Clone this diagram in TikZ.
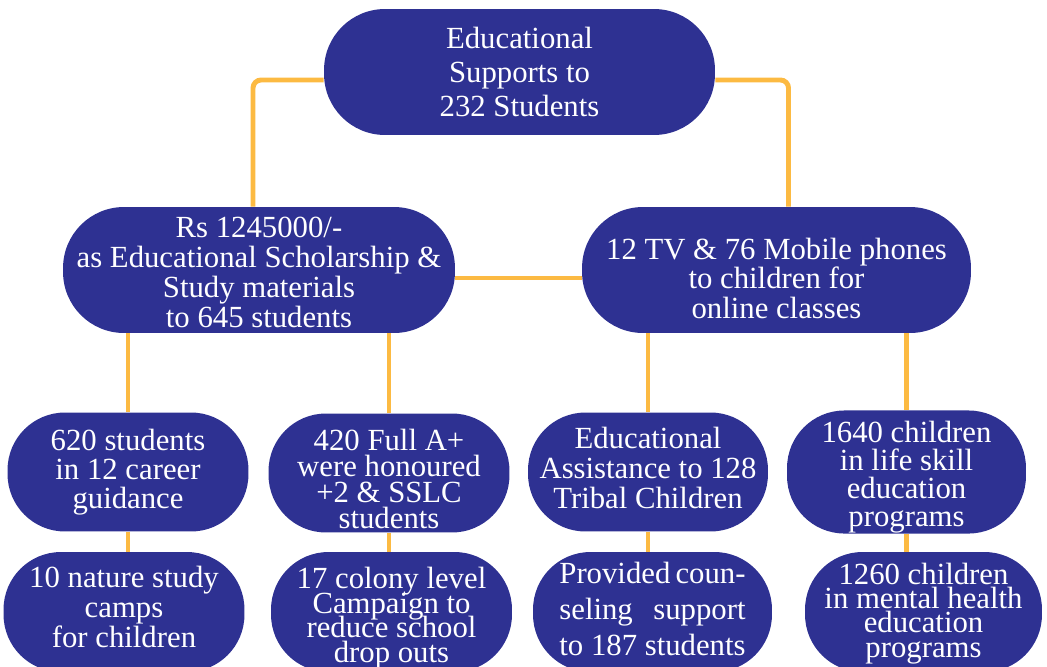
\documentclass[tikz,border=0pt]{standalone}
\usepackage{fontspec}
\setmainfont{Liberation Serif}
\usepackage{calc}
\definecolor{edblue}{RGB}{46,49,146}
\definecolor{edorange}{RGB}{252,186,66}
\usetikzlibrary{backgrounds}

% keep the given line spacing, pad first / last line
\newcommand{\tightlines}{\lineskiplimit=-\maxdimen\relax}
\newcommand{\toppad}[1]{\rule{0pt}{\dimexpr 12pt+#1\relax}}
\newcommand{\botpad}[1]{\rule[-#1]{0pt}{#1}}

\tikzset{
  pill/.style={fill=edblue, text=white, rounded corners=1.15cm, minimum width=4.82cm, minimum height=2.38cm, inner sep=0pt, align=center, font=\fontsize{17.5}{16.5}\selectfont\tightlines},
  bigpill/.style={pill, rounded corners=1.22cm, minimum height=2.52cm},
  link/.style={draw=edorange, line width=2.8pt, rounded corners=0.16cm}
}

\begin{document}
\begin{tikzpicture}[x=0.02cm, y=-0.02cm]
  \useasboundingbox (0,0) rectangle (1047,666);
  \clip (0,0) rectangle (1047,666);

  % Top node
  \node[bigpill, minimum width=7.82cm, font=\fontsize{17.5}{19.3}\selectfont\tightlines] (top) at (519.5,72) {Educational\\Supports to\\232 Students};

  % Middle row
  \node[bigpill, minimum width=7.84cm, font=\fontsize{17.5}{17}\selectfont\tightlines] (midL) at (259,270) {\toppad{0.08cm}Rs 1245000/-\\as Educational Scholarship \&\\Study materials\\to 645 students};
  \node[bigpill, minimum width=7.78cm, font=\fontsize{17.5}{17}\selectfont\tightlines] (midR) at (776.5,270) {\toppad{0.34cm}12 TV \& 76 Mobile phones\\to children for\\online classes};

  % Third row
  \node[pill] (c1) at (128,472) {620 students\\in 12 career\\guidance};
  \node[pill, font=\fontsize{17.5}{14.8}\selectfont\tightlines] (c2) at (389,473) {\toppad{0.24cm}420 Full A+\\were honoured\\+2 \& SSLC\\students};
  \node[pill, minimum width=4.8cm, font=\fontsize{17.5}{17.1}\selectfont\tightlines] (c3) at (648,472) {Educational\\Assistance to 128\\Tribal Children\botpad{0.16cm}};
  \node[pill, minimum width=4.78cm, font=\fontsize{17.5}{16}\selectfont\tightlines] (c4) at (906.5,472) {\toppad{0.22cm}1640 children\\in life skill\\education\\programs};

  % Bottom row
  \node[pill, minimum height=2.4cm, font=\fontsize{17.5}{17.1}\selectfont\tightlines] (d1) at (124,612) {10 nature study\\camps\\for children\botpad{0.19cm}};
  \node[pill, minimum height=2.4cm, font=\fontsize{17.5}{13.9}\selectfont\tightlines] (d2) at (391.5,612) {\toppad{0.25cm}17 colony level\\Campaign to\\reduce school\\drop outs};
  \node[pill, minimum width=4.78cm, minimum height=2.4cm, font=\fontsize{17.5}{20.5}\selectfont\tightlines] (d3) at (652.5,612) {\makebox[\widthof{to 187 students}][s]{Provided coun-}\\\makebox[\widthof{to 187 students}][s]{seling support}\\to 187 students\botpad{0.12cm}};
  \node[pill, minimum width=4.74cm, minimum height=2.4cm, font=\fontsize{17.5}{13.9}\selectfont\tightlines] (d4) at (923.5,612) {\toppad{0.06cm}1260 children\\in mental health\\education\\programs};

  % Connectors
  \begin{scope}[on background layer]
    \draw[link] ([yshift=-0.16cm]top.west) -| ([xshift=-0.12cm]midL.north);
    \draw[link] ([yshift=-0.16cm]top.east) -| ([xshift=0.24cm]midR.north);
    \draw[link] ([yshift=-0.16cm]midL.east) -- ([yshift=-0.16cm]midR.west);
    \draw[link] (c1.north |- midL.south) -- (c1.north);
    \draw[link] (c2.north |- midL.south) -- (c2.north);
    \draw[link] (c3.north |- midR.south) -- (c3.north);
    \draw[link] (c4.north |- midR.south) -- (c4.north);
    \draw[link] (c1.south) -- (c1.south |- d1.north);
    \draw[link] (c2.south) -- (c2.south |- d2.north);
    \draw[link] (c3.south) -- (c3.south |- d3.north);
    \draw[link] (c4.south) -- (c4.south |- d4.north);
  \end{scope}
\end{tikzpicture}
\end{document}
